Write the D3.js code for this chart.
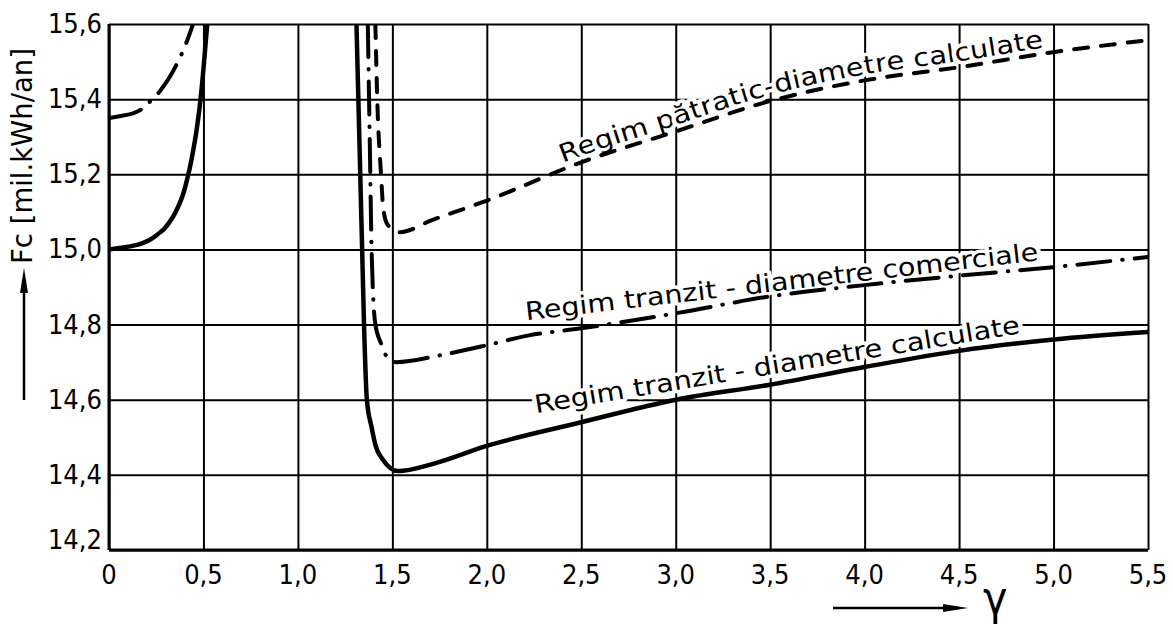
<!DOCTYPE html>
<html>
<head>
<meta charset="utf-8">
<script src="https://cdn.jsdelivr.net/npm/d3@7/dist/d3.min.js"></script>
<style>
body { margin: 0; background: #fff; }
text { font-family: "DejaVu Sans Condensed", "DejaVu Sans", sans-serif; font-stretch: condensed; fill: #000; }
</style>
</head>
<body>
<div class="chart"></div>
<script>
// tick values
var xTicks = [0, 0.5, 1.0, 1.5, 2.0, 2.5, 3.0, 3.5, 4.0, 4.5, 5.0, 5.5];
var yTicks = [14.2, 14.4, 14.6, 14.8, 15.0, 15.2, 15.4, 15.6];

// Regim tranzit - diametre calculate (solid)
var solidLeftX  = [0, 0.13, 0.27, 0.33, 0.38, 0.42, 0.455, 0.48, 0.5, 0.52];
var solidLeftY  = [15.0, 15.01, 15.045, 15.08, 15.13, 15.2, 15.29, 15.38, 15.48, 15.6];
var solidRightX = [1.31, 1.325, 1.34, 1.35, 1.365, 1.39, 1.41, 1.45, 1.53, 1.72, 2.0, 2.5, 3.0, 3.5, 4.0, 4.5, 5.0, 5.5];
var solidRightY = [15.6, 15.3, 15.0, 14.8, 14.6, 14.527, 14.48, 14.44, 14.41, 14.43, 14.477, 14.54, 14.6, 14.64, 14.687, 14.73, 14.76, 14.78];

// Regim tranzit - diametre comerciale (dash-dot)
var comLeftX  = [0, 0.13, 0.23, 0.31, 0.375, 0.445];
var comLeftY  = [15.35, 15.363, 15.4, 15.45, 15.51, 15.6];
var comRightX = [1.37, 1.38, 1.39, 1.41, 1.44, 1.47, 1.52, 1.75, 2.0, 2.21, 2.5, 3.0, 3.5, 4.0, 4.5, 5.0, 5.5];
var comRightY = [15.6, 15.3, 15.0, 14.8, 14.75, 14.715, 14.70, 14.718, 14.745, 14.77, 14.79, 14.83, 14.875, 14.905, 14.93, 14.953, 14.98];

// Regim patratic - diametre calculate (dashed)
var patRightX = [1.41, 1.42, 1.44, 1.45, 1.47, 1.50, 1.54, 1.71, 2.0, 2.5, 3.0, 3.5, 4.0, 4.5, 5.0, 5.5];
var patRightY = [15.6, 15.4, 15.2, 15.12, 15.07, 15.055, 15.046, 15.078, 15.13, 15.232, 15.314, 15.395, 15.45, 15.485, 15.525, 15.557];

// straight curve labels, anchored in data units (start and end of baseline)
var labelTexts  = ["Regim tranzit - diametre comerciale", "Regim tranzit - diametre calculate"];
var labelStartX = [2.212, 2.265];
var labelStartY = [14.798, 14.551];
var labelEndX   = [4.926, 4.831];
var labelEndY   = [14.958, 14.764];

// label that follows the dashed curve
var patLabel = "Regim pătratic-diametre calculate";
var patLabelFrom = 2.413;
var patLabelTo = 4.952;

var svgWidth = 1173;
var svgHeight = 630;

var margin = { top: 24, right: 25, bottom: 80, left: 109 };
var width = svgWidth - margin.left - margin.right;
var height = svgHeight - margin.top - margin.bottom;

var svg = d3.select(".chart")
    .append("svg")
    .attr("width", svgWidth).attr("height", svgHeight);

var chartGroup = svg.append("g")
    .attr("transform", `translate(${margin.left}, ${margin.top})`);

var xScale = d3.scaleLinear().domain([0, 5.5]).range([0, width]);
var yScale = d3.scaleLinear().domain([14.2, 15.6]).range([height, 0]);

svg.append("defs").append("clipPath").attr("id", "plotClip")
    .append("rect").attr("x", 0).attr("y", 0).attr("width", width).attr("height", height);

// grid
chartGroup.append("g")
    .call(d3.axisBottom(xScale).tickValues(xTicks).tickSize(-height).tickFormat(""))
    .attr("transform", `translate(0, ${height})`)
    .call(g => g.select(".domain").remove())
    .selectAll("line").attr("stroke", "#000").attr("stroke-width", 2);

chartGroup.append("g")
    .call(d3.axisLeft(yScale).tickValues(yTicks).tickSize(-width).tickFormat(""))
    .call(g => g.select(".domain").remove())
    .selectAll("line").attr("stroke", "#000").attr("stroke-width", 2);

// frame: left and bottom heavier
chartGroup.append("line").attr("x1", 0).attr("x2", 0).attr("y1", 0).attr("y2", height)
    .attr("stroke", "#000").attr("stroke-width", 3);
chartGroup.append("line").attr("x1", 0).attr("x2", width).attr("y1", height).attr("y2", height)
    .attr("stroke", "#000").attr("stroke-width", 3);

// tick labels
var fmt = d => d3.format(".1f")(d).replace(".", ",");
chartGroup.selectAll(".xlab")
    .data(xTicks)
    .enter()
    .append("text")
    .attr("class", "xlab")
    .attr("x", d => xScale(d))
    .attr("y", height + 34)
    .attr("text-anchor", "middle")
    .attr("font-size", 27)
    .text(d => d === 0 ? "0" : fmt(d));

chartGroup.selectAll(".ylab")
    .data(yTicks)
    .enter()
    .append("text")
    .attr("class", "ylab")
    .attr("x", -7)
    .attr("y", (d, i) => yScale(d) + (i === 0 ? -1 : 9))
    .attr("text-anchor", "end")
    .attr("font-size", 27)
    .text(fmt);

// curves
var lineX = d3.line()
    .x(d => xScale(d[0]))
    .y(d => yScale(d[1]))
    .curve(d3.curveMonotoneX);
var lineY = d3.line()
    .x(d => xScale(d[0]))
    .y(d => yScale(d[1]))
    .curve(d3.curveMonotoneY);

// curve labels with a white halo that breaks the grid
function haloText(sel) {
    return sel.attr("font-size", 25)
        .attr("stroke", "#fff")
        .attr("stroke-width", 7)
        .attr("paint-order", "stroke")
        .attr("stroke-linejoin", "round");
}

labelTexts.forEach(function(t, i) {
    var x0 = xScale(labelStartX[i]), y0 = yScale(labelStartY[i]);
    var x1 = xScale(labelEndX[i]), y1 = yScale(labelEndY[i]);
    var ang = Math.atan2(y1 - y0, x1 - x0) * 180 / Math.PI;
    var len = Math.hypot(x1 - x0, y1 - y0);
    chartGroup.append("text")
        .call(haloText)
        .attr("transform", `translate(${x0}, ${y0}) rotate(${ang})`)
        .attr("dy", -5)
        .attr("textLength", len)
        .attr("lengthAdjust", "spacingAndGlyphs")
        .text(t);
});

// dashed-curve label on a path built from the same series
var patPts = patRightX.map((x, i) => [x, patRightY[i]]).filter(d => d[0] >= 2.0);
var guide = chartGroup.append("path")
    .attr("id", "patGuide")
    .attr("d", lineX(patPts))
    .attr("fill", "none")
    .attr("stroke", "none");
var gNode = guide.node();
var total = gNode.getTotalLength();
function lengthAtX(px) {
    for (var l = 0; l <= total; l += 0.5) {
        if (gNode.getPointAtLength(l).x >= px) return l;
    }
    return total;
}
var l0 = lengthAtX(xScale(patLabelFrom));
var l1 = lengthAtX(xScale(patLabelTo));
chartGroup.append("text")
    .call(haloText)
    .attr("dy", -6)
    .append("textPath")
    .attr("href", "#patGuide")
    .attr("startOffset", l0)
    .attr("textLength", l1 - l0)
    .attr("lengthAdjust", "spacingAndGlyphs")
    .text(patLabel);

var series = [
    { xs: solidLeftX, ys: solidLeftY, w: 4.5, dash: null, gen: lineY },
    { xs: solidRightX, ys: solidRightY, w: 4.5, dash: null, gen: lineX },
    { xs: comLeftX, ys: comLeftY, w: 4, dash: "33,12,0.5,12", gen: lineY },
    { xs: comRightX, ys: comRightY, w: 4, dash: "33,12,0.5,12", gen: lineX },
    { xs: patRightX, ys: patRightY, w: 4, dash: "14,13", gen: lineX }
];

var curveGroup = chartGroup.append("g").attr("clip-path", "url(#plotClip)");
series.forEach(function(s) {
    curveGroup.append("path")
        .attr("d", s.gen(s.xs.map((x, i) => [x, s.ys[i]])))
        .attr("fill", "none")
        .attr("stroke", "#000")
        .attr("stroke-width", s.w)
        .attr("stroke-linecap", "round")
        .attr("stroke-dasharray", s.dash);
});

// axis titles with arrows
svg.append("line").attr("x1", 24).attr("x2", 24).attr("y1", 400).attr("y2", 290)
    .attr("stroke", "#000").attr("stroke-width", 2.5);
svg.append("path").attr("d", "M24,268 L28,293 L20,293 Z").attr("fill", "#000");

var yTitle = svg.append("text")
    .attr("transform", "translate(32, 264) rotate(-90)")
    .attr("font-size", 28)
    .attr("textLength", 216)
    .attr("lengthAdjust", "spacingAndGlyphs");
yTitle.append("tspan").text("F");
yTitle.append("tspan").text("c");
yTitle.append("tspan").text(" [mil.kWh/an]");

svg.append("line").attr("x1", 833).attr("x2", 948).attr("y1", 608).attr("y2", 608)
    .attr("stroke", "#000").attr("stroke-width", 2.5);
svg.append("path").attr("d", "M968,608 L943,604 L943,612 Z").attr("fill", "#000");

svg.append("text")
    .attr("x", 983)
    .attr("y", 614)
    .attr("font-size", 46)
    .text("γ");
</script>
</body>
</html>
